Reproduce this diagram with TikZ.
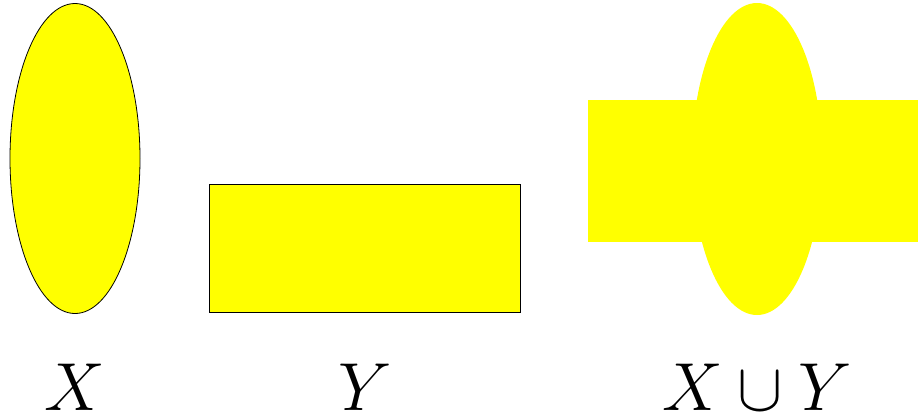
\documentclass[tikz,border=0pt]{standalone}
\definecolor{setyellow}{RGB}{255,255,0}
\begin{document}
\begin{tikzpicture}[x=1pt,y=-1pt,
  setshape/.style={fill=setyellow,draw=black,line width=0.8pt},
  unionshape/.style={fill=setyellow},
  setlabel/.style={anchor=base,inner sep=0pt,font=\Huge,scale=2.73}]
\useasboundingbox (0,0) rectangle (918,413);
% X
\filldraw[setshape] (75,158.5) ellipse [x radius=65, y radius=155];
% Y
\filldraw[setshape] (209,184) rectangle (520,312.5);
% X union Y
\fill[unionshape] (757,159) ellipse [x radius=65, y radius=156];
\fill[unionshape] (588,100) rectangle (918,241.5);
% labels
\node[setlabel] (lx) at (75,410) {$X$};
\node[setlabel] (ly) at (365,410) {$Y$};
\node[setlabel] (lxy) at (757,410) {$X\cup Y$};
\end{tikzpicture}
\end{document}
